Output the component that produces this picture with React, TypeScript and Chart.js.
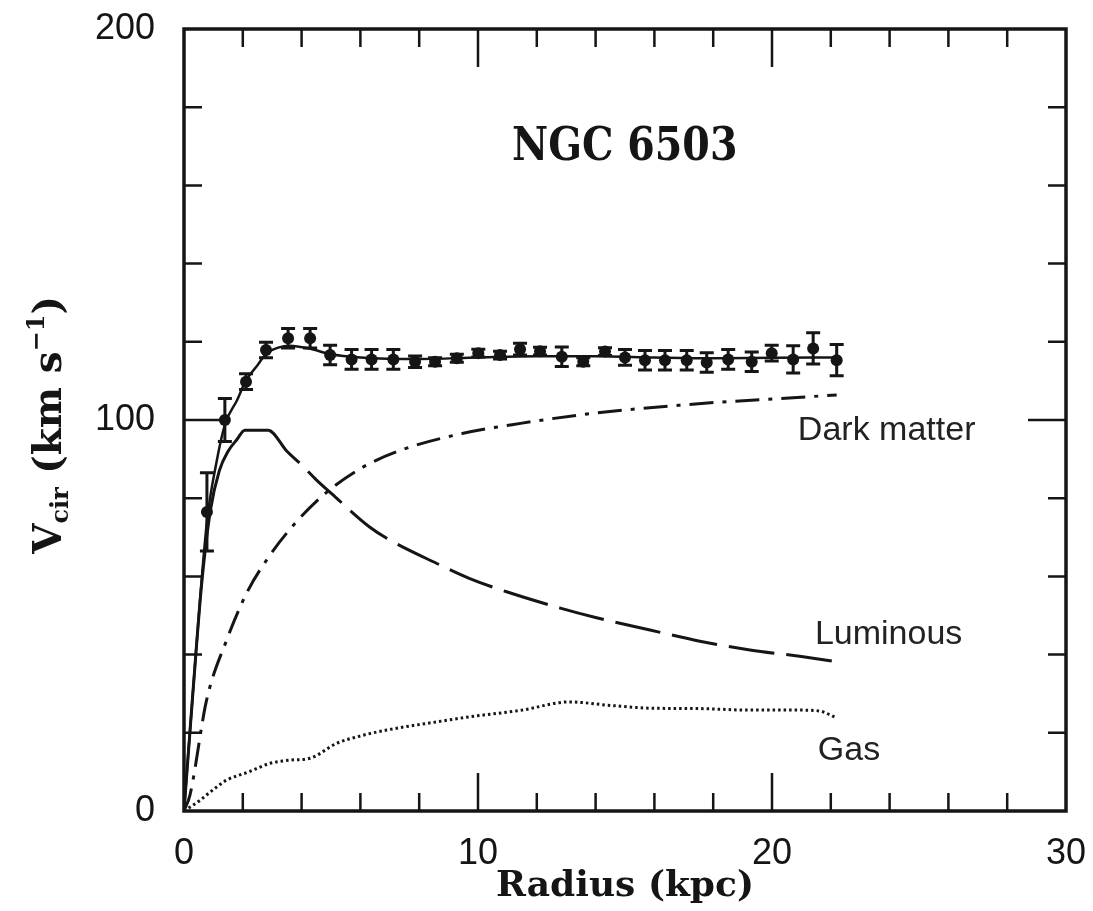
import React, { useEffect, useRef } from 'react';
import { Chart, registerables } from 'chart.js';

Chart.register(...registerables);

// Observed rotation curve points (kpc, km/s) and their errors
const obsRadius = [0.78, 1.39, 2.11, 2.79, 3.54, 4.29, 4.97, 5.7, 6.38, 7.12, 7.86, 8.54, 9.28, 10.01, 10.75, 11.43, 12.11, 12.85, 13.58, 14.32, 15.0, 15.68, 16.36, 17.1, 17.78, 18.51, 19.31, 19.99, 20.72, 21.4, 22.2];
const obsVelocity = [76.5, 100, 109.8, 117.9, 120.9, 120.9, 116.6, 115.5, 115.5, 115.5, 114.9, 114.9, 115.8, 117.1, 116.6, 118.1, 117.6, 116.2, 114.9, 117.5, 116.0, 115.3, 115.3, 115.3, 114.7, 115.5, 114.9, 117.1, 115.5, 118.3, 115.3];
const obsError = [10, 5.5, 2, 2, 2.5, 2.5, 2.5, 2.5, 2.5, 2.5, 1.5, 1, 1, 1, 1, 1.5, 1, 2.5, 1, 1, 2, 2.5, 2.5, 2.5, 2.5, 2.5, 2.5, 2, 3.5, 4, 4];

// Total model fit (solid)
const fitRadius = [0, 0.4, 0.78, 1.1, 1.4, 1.8, 2.1, 2.5, 2.8, 3.2, 3.6, 4.3, 5.0, 6.0, 8.0, 10.0, 12.0, 14.0, 16.0, 18.0, 20.0, 22.2];
const fitVelocity = [0, 40, 74, 89, 99, 105, 110, 114, 117, 118.5, 119, 118.2, 116.8, 116, 115.6, 116, 116.3, 116.3, 116, 115.8, 115.9, 116];

// Luminous component (long dashes)
const lumRadius = [0, 0.3, 0.6, 0.9, 1.2, 1.5, 1.8, 2.07, 2.86, 3.5, 4.0, 4.5, 5.0, 6.3, 7.0, 8.6, 9.7, 11, 12.8, 14, 15.85, 17.5, 19.25, 21, 22.2];
const lumVelocity = [0, 30, 58, 77, 87, 92, 95, 97.4, 97.4, 92, 88.5, 84.7, 81.3, 72.7, 69.3, 63.3, 59.5, 56, 51.9, 49.5, 46.3, 43.5, 41.2, 39.5, 38.2];

// Dark matter halo (dash-dot)
const dmRadius = [0, 0.2, 0.77, 1.45, 2.13, 2.93, 3.83, 4.85, 6.1, 7.46, 9.5, 11.5, 13.47, 15.2, 16.87, 18.5, 20.27, 22.2];
const dmVelocity = [0, 4, 28.4, 43.7, 55.7, 65.5, 74, 81.5, 88, 92.5, 96.6, 99.2, 101.3, 102.7, 103.8, 104.7, 105.5, 106.4];

// Gas component (dotted)
const gasRadius = [0, 0.5, 1.0, 1.45, 2.2, 2.93, 3.6, 4.29, 5.19, 6.0, 6.89, 8.6, 9.73, 11.5, 13.1, 14.5, 15.85, 17.5, 19.25, 21.0, 21.6, 22.2];
const gasVelocity = [0, 2.5, 5.5, 7.9, 10, 12.2, 13, 13.5, 17.3, 19.2, 20.7, 22.8, 24.1, 25.8, 27.9, 27, 26.3, 26.2, 25.8, 25.8, 25.6, 23.8];

// Axis ranges and labels
const xMin = 0, xMax = 30, xLabelStep = 10, xMinorStep = 2;
const yMin = 0, yMax = 200, yLabelStep = 100, yMinorStep = 20;
const xTitle = 'Radius (kpc)';
const chartTitle = 'NGC 6503';

// Curve annotations: text, radius, velocity (baseline)
const annotationText = ['Dark matter', 'Luminous', 'Gas'];
const annotationRadius = [20.88, 21.46, 21.56];
const annotationVelocity = [94.9, 42.7, 13.0];
const titleRadius = 11.16;
const titleVelocity = 166.5;

const INK = '#151515';

const pts = (xs: number[], ys: number[]) => xs.map((x, i) => ({ x, y: ys[i] }));

const framePlugin = {
  id: 'frameAndText',
  afterDatasetsDraw(chart: any) {
    const { ctx, scales } = chart;
    const x = scales.x, y = scales.y;
    ctx.save();
    ctx.strokeStyle = INK;
    ctx.lineWidth = 3;
    for (let i = 0; i < obsRadius.length; i++) {
      const px = x.getPixelForValue(obsRadius[i]);
      const t = y.getPixelForValue(obsVelocity[i] + obsError[i]);
      const b = y.getPixelForValue(obsVelocity[i] - obsError[i]);
      ctx.beginPath();
      ctx.moveTo(px, t); ctx.lineTo(px, b);
      ctx.moveTo(px - 7, t); ctx.lineTo(px + 7, t);
      ctx.moveTo(px - 7, b); ctx.lineTo(px + 7, b);
      ctx.stroke();
    }
    ctx.restore();
  },
  afterDraw(chart: any) {
    const { ctx, chartArea: a, scales } = chart;
    const x = scales.x, y = scales.y;
    ctx.save();
    ctx.strokeStyle = INK;
    ctx.lineWidth = 3.5;
    ctx.strokeRect(a.left, a.top, a.right - a.left, a.bottom - a.top);
    ctx.lineWidth = 2.5;
    ctx.beginPath();
    for (let v = xMin + xMinorStep; v < xMax; v += xMinorStep) {
      const px = x.getPixelForValue(v);
      const len = v % xLabelStep === 0 ? 38 : 18;
      ctx.moveTo(px, a.bottom); ctx.lineTo(px, a.bottom - len);
      ctx.moveTo(px, a.top); ctx.lineTo(px, a.top + len);
    }
    for (let v = yMin + yMinorStep; v < yMax; v += yMinorStep) {
      const py = y.getPixelForValue(v);
      const len = v % yLabelStep === 0 ? 38 : 18;
      ctx.moveTo(a.left, py); ctx.lineTo(a.left + len, py);
      ctx.moveTo(a.right, py); ctx.lineTo(a.right - len, py);
    }
    ctx.stroke();

    // in-plot title (slightly condensed serif)
    ctx.fillStyle = INK;
    ctx.textBaseline = 'alphabetic';
    ctx.textAlign = 'left';
    ctx.save();
    ctx.translate(x.getPixelForValue(titleRadius), y.getPixelForValue(titleVelocity));
    ctx.scale(0.86, 1);
    ctx.font = 'bold 46px "DejaVu Serif"';
    ctx.fillText(chartTitle, 0, 0);
    ctx.restore();

    ctx.fillStyle = '#222';
    ctx.font = '34px "Liberation Sans", Arial, sans-serif';
    for (let i = 0; i < annotationText.length; i++) {
      ctx.fillText(annotationText[i], x.getPixelForValue(annotationRadius[i]), y.getPixelForValue(annotationVelocity[i]));
    }

    // y axis title with subscript / superscript
    ctx.fillStyle = INK;
    const big = 'bold 39px "DejaVu Serif"';
    const small = 'bold 24px "DejaVu Serif"';
    const pieces = [
      { t: 'V', f: big, dy: 0 },
      { t: 'cir', f: small, dy: 7 },
      { t: ' (km s', f: big, dy: 0 },
      { t: '\u22121', f: small, dy: -17 },
      { t: ')', f: big, dy: 0 },
    ];
    let total = 0;
    const widths: number[] = [];
    for (const p of pieces) { ctx.font = p.f; const w = ctx.measureText(p.t).width; widths.push(w); total += w; }
    const cy = (a.top + a.bottom) / 2 + 5;
    ctx.translate(61, cy);
    ctx.rotate(-Math.PI / 2);
    let cx = -total / 2;
    pieces.forEach((p, i) => { ctx.font = p.f; ctx.fillText(p.t, cx, p.dy); cx += widths[i]; });
    ctx.restore();
  },
};

export default function App() {
  const ref = useRef<HTMLCanvasElement | null>(null);
  useEffect(() => {
    if (!ref.current) return;
    const chart = new Chart(ref.current, {
      type: 'scatter',
      data: {
        datasets: [
          {
            label: 'Gas',
            data: pts(gasRadius, gasVelocity),
            showLine: true, pointRadius: 0, borderColor: INK, borderWidth: 3,
            borderDash: [2.5, 3], cubicInterpolationMode: 'monotone',
          },
          {
            label: 'Dark matter',
            data: pts(dmRadius, dmVelocity),
            showLine: true, pointRadius: 0, borderColor: INK, borderWidth: 3,
            borderDash: [24, 9, 4, 9], cubicInterpolationMode: 'monotone',
          },
          {
            label: 'Luminous',
            data: pts(lumRadius, lumVelocity),
            showLine: true, pointRadius: 0, borderColor: INK, borderWidth: 3,
            borderDash: [], cubicInterpolationMode: 'monotone',
            segment: { borderDash: (c: any) => (c.p0.parsed.x >= 2.86 ? [46, 12] : undefined) },
          },
          {
            label: 'Total fit',
            data: pts(fitRadius, fitVelocity),
            showLine: true, pointRadius: 0, borderColor: INK, borderWidth: 2.5,
            cubicInterpolationMode: 'monotone',
          },
          {
            label: 'Observed',
            data: pts(obsRadius, obsVelocity),
            showLine: false, pointRadius: 6, pointBackgroundColor: INK, pointBorderColor: INK, pointBorderWidth: 0,
          },
        ],
      } as any,
      options: {
        animation: false,
        responsive: false,
        layout: { padding: { left: 0, right: 27, top: 29, bottom: 0 } },
        plugins: { legend: { display: false }, tooltip: { enabled: false } },
        scales: {
          x: {
            type: 'linear', min: xMin, max: xMax,
            grid: { display: false }, border: { display: false },
            ticks: { stepSize: xLabelStep, padding: 13, color: INK, font: { family: '"Liberation Sans", Arial, sans-serif', size: 36 } },
            title: { display: true, text: xTitle, color: INK, padding: { top: 0, bottom: 3 }, font: { family: '"DejaVu Serif"', size: 36, weight: 'bold' } },
            afterFit: (s: any) => { s.height = 100; s.paddingLeft = 0; s.paddingRight = 0; },
          },
          y: {
            type: 'linear', min: yMin, max: yMax,
            grid: { display: false }, border: { display: false },
            ticks: { stepSize: yLabelStep, padding: 21, color: INK, font: { family: '"Liberation Sans", Arial, sans-serif', size: 36 } },
            afterFit: (s: any) => { s.width = 184; s.paddingTop = 0; s.paddingBottom = 0; },
          },
        },
      } as any,
      plugins: [framePlugin],
    });
    return () => chart.destroy();
  }, []);
  return (
    <div style={{ position: 'absolute', left: 0, top: 0, width: 1093, height: 911, background: '#fff' }}>
      <canvas ref={ref} width={1093} height={911} style={{ display: 'block' }} />
    </div>
  );
}
